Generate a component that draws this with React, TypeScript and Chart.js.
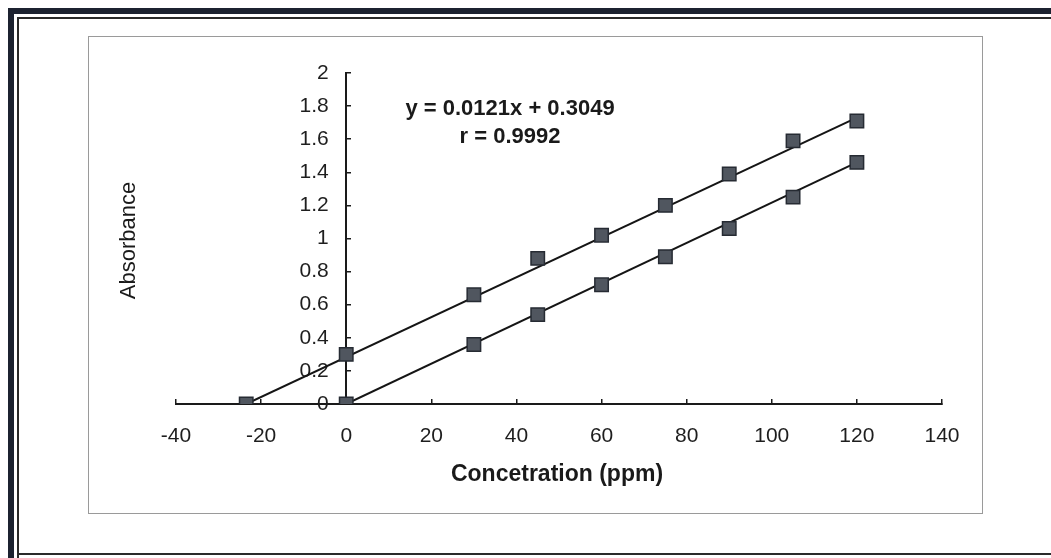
import React, { useEffect, useRef } from "react";
import { Chart, registerables } from "chart.js";

Chart.register(...registerables);

// ---- data ----
const upperX = [-23.5, 0, 30, 45, 60, 75, 90, 105, 120];
const upperY = [0, 0.3, 0.66, 0.88, 1.02, 1.2, 1.39, 1.59, 1.71];
const lowerX = [0, 30, 45, 60, 75, 90, 105, 120];
const lowerY = [0, 0.36, 0.54, 0.72, 0.89, 1.06, 1.25, 1.46];
const upperTrendX = [-23.5, 120];
const upperTrendY = [0, 1.73];
const lowerTrendX = [0, 120];
const lowerTrendY = [0, 1.46];
const xRange = [-40, 140];
const xStep = 20;
const yRange = [0, 2];
const yStep = 0.2;
const xTitle = "Concetration (ppm)";
const yTitle = "Absorbance";
const equationLines = ["y = 0.0121x + 0.3049", "r = 0.9992"];
const equationAnchorX = 38.5;
const equationAnchorY = [1.78, 1.615];

const FONT = "'Liberation Sans', Arial, sans-serif";
const MARKER_FILL = "#50565f";
const MARKER_BORDER = "#262b33";
const LINE_COLOR = "#151515";

const toPts = (xs: number[], ys: number[]) => xs.map((x, i) => ({ x, y: ys[i] }));

const decorPlugin = {
  id: "decor",
  beforeDraw(chart: any) {
    const ctx = chart.ctx as CanvasRenderingContext2D;
    const w = chart.width;
    const h = chart.height;
    ctx.save();
    ctx.fillStyle = "#ffffff";
    ctx.fillRect(0, 0, w, h);
    // outer thick frame (left & top visible)
    ctx.fillStyle = "#1c2230";
    ctx.fillRect(8, 8, 6, h - 8);
    ctx.fillRect(8, 8, w - 8, 6);
    // inner thin frame
    ctx.strokeStyle = "#2a2a2a";
    ctx.lineWidth = 2;
    ctx.beginPath();
    ctx.moveTo(18, h);
    ctx.lineTo(18, 18);
    ctx.lineTo(w, 18);
    ctx.moveTo(18, 554);
    ctx.lineTo(w, 554);
    ctx.stroke();
    // plot box (light gray)
    ctx.strokeStyle = "#9a9a9a";
    ctx.lineWidth = 1;
    ctx.strokeRect(88.5, 36.5, 894, 477);
    ctx.restore();
  },
  afterDraw(chart: any) {
    const ctx = chart.ctx as CanvasRenderingContext2D;
    const xs = chart.scales.x;
    const ys = chart.scales.y;
    ctx.save();
    ctx.fillStyle = "#1a1a1a";
    ctx.textAlign = "center";
    ctx.textBaseline = "middle";
    // equation
    ctx.font = `bold 22px ${FONT}`;
    equationLines.forEach((t, i) => {
      ctx.fillText(t, xs.getPixelForValue(equationAnchorX), ys.getPixelForValue(equationAnchorY[i]));
    });
    // x title
    ctx.font = `bold 23px ${FONT}`;
    ctx.fillText(xTitle, (chart.chartArea.left + chart.chartArea.right) / 2 - 2, 475);
    // y title
    ctx.font = `22px ${FONT}`;
    ctx.translate(129, (chart.chartArea.top + chart.chartArea.bottom) / 2 + 2);
    ctx.rotate(-Math.PI / 2);
    ctx.fillText(yTitle, 0, 0);
    ctx.restore();
  },
};

export default function App() {
  const ref = useRef<HTMLCanvasElement | null>(null);
  useEffect(() => {
    if (!ref.current) return;
    const chart = new Chart(ref.current, {
      type: "scatter",
      data: {
        datasets: [
          {
            label: "upper",
            data: toPts(upperX, upperY),
            pointStyle: "rect",
            pointRadius: 9.5,
            pointBackgroundColor: MARKER_FILL,
            pointBorderColor: MARKER_BORDER,
            pointBorderWidth: 1.5,
            showLine: false,
            order: 0,
          },
          {
            label: "lower",
            data: toPts(lowerX, lowerY),
            pointStyle: "rect",
            pointRadius: 9.5,
            pointBackgroundColor: MARKER_FILL,
            pointBorderColor: MARKER_BORDER,
            pointBorderWidth: 1.5,
            showLine: false,
            order: 0,
          },
          {
            label: "upper trend",
            data: toPts(upperTrendX, upperTrendY),
            showLine: true,
            borderColor: LINE_COLOR,
            borderWidth: 2,
            pointRadius: 0,
            order: 1,
          },
          {
            label: "lower trend",
            data: toPts(lowerTrendX, lowerTrendY),
            showLine: true,
            borderColor: LINE_COLOR,
            borderWidth: 2,
            pointRadius: 0,
            order: 1,
          },
        ],
      },
      options: {
        responsive: false,
        animation: false,
        layout: { padding: { left: 176, right: 109, top: 73, bottom: 154 } },
        plugins: { legend: { display: false }, tooltip: { enabled: false } },
        scales: {
          x: {
            type: "linear",
            position: { y: 0 } as any,
            min: xRange[0],
            max: xRange[1],
            ticks: {
              stepSize: xStep,
              color: "#1e1e1e",
              font: { family: FONT, size: 21 },
              padding: 26,
            },
            grid: {
              drawOnChartArea: false,
              drawTicks: true,
              tickLength: -6,
              color: "#1a1a1a",
              lineWidth: 1.5,
            },
            border: { display: true, color: "#1a1a1a", width: 2 },
          },
          y: {
            type: "linear",
            position: { x: 0 } as any,
            min: yRange[0],
            max: yRange[1],
            ticks: {
              stepSize: yStep,
              color: "#1e1e1e",
              font: { family: FONT, size: 21 },
              padding: 22,
              // trailing spaces keep the right-aligned labels clear of the axis
              callback: (v: any) => String(Math.round(Number(v) * 10) / 10) + "   ",
            },
            grid: {
              drawOnChartArea: false,
              drawTicks: true,
              tickLength: -6,
              color: "#1a1a1a",
              lineWidth: 1.5,
            },
            border: { display: true, color: "#1a1a1a", width: 2 },
          },
        },
      },
      plugins: [decorPlugin],
    });
    return () => chart.destroy();
  }, []);
  return (
    <div style={{ position: "fixed", left: 0, top: 0, width: 1051, height: 558, background: "#fff" }}>
      <canvas ref={ref} width={1051} height={558} style={{ display: "block" }} />
    </div>
  );
}
